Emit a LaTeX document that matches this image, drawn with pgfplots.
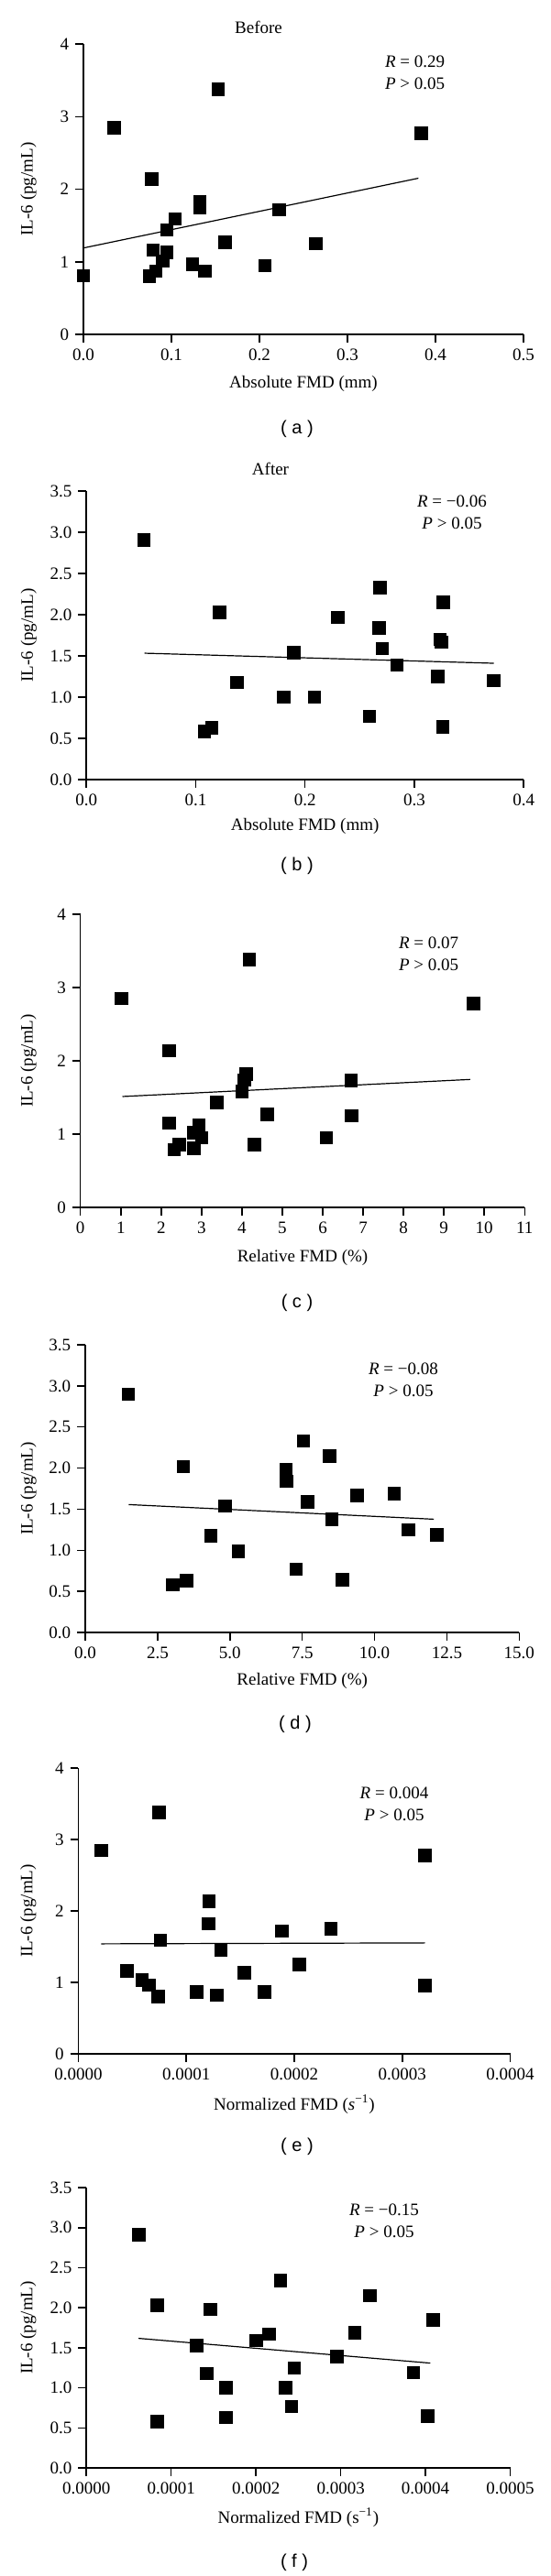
\documentclass[border=0pt]{standalone}
\usepackage{fontspec}
\setmainfont{Liberation Serif}
\newfontfamily\sansf{Liberation Sans}
\usepackage{pgfplots}
\pgfplotsset{compat=1.18}
\newcommand{\fs}{\fontsize{9.5}{12}\selectfont}
\pgfplotsset{
  fmd/.style={
    scale only axis, anchor=south west,
    axis lines=left,
    axis line style={-, line width=0.75pt},
    every tick/.style={black, line width=0.75pt},
    tick align=outside,
    major tick length=4.4pt,
    xmin=0, ymin=0,
    clip=false,
    scaled ticks=false,
    /pgf/number format/assume math mode=true,
    tick label style={font=\fs},
    label style={font=\fs},
    ylabel={IL-6 (pg/mL)},
  },
  dec1x/.style={xticklabel style={/pgf/number format/.cd, fixed, fixed zerofill, precision=1, assume math mode=true}},
  dec1y/.style={yticklabel style={/pgf/number format/.cd, fixed, fixed zerofill, precision=1, assume math mode=true}},
  pts/.style={only marks, mark=square*, mark size=3.4pt, black},
  fitl/.style={no marks, black, line width=0.6pt},
}
\begin{document}
\begin{tikzpicture}
\useasboundingbox (0,0) rectangle (300pt,-1406pt);

% (a)
\begin{axis}[fmd, at={(45.5pt,-182.5pt)}, width=240pt, height=158.5pt,
  xmax=0.5, ymax=4, xtick={0,0.1,0.2,0.3,0.4,0.5}, ytick={0,1,2,3,4}, dec1x,
  xlabel={Absolute FMD (mm)},
  xlabel style={at={(axis description cs:0.5,-0.17)}, anchor=center},
  ylabel style={at={(axis description cs:-0.125,0.5)}, anchor=center}]
\addplot[fitl] coordinates {(0.0012,1.193)(0.3806,2.151)};
\addplot[pts] coordinates {(0,0.81)(0.035,2.85)(0.153,3.38)(0.384,2.77)(0.0774,2.14)(0.132,1.83)(0.132,1.745)(0.222,1.72)(0.104,1.59)(0.0945,1.44)(0.161,1.27)(0.264,1.25)(0.079,1.16)(0.0945,1.13)(0.090,1.01)(0.124,0.97)(0.206,0.95)(0.138,0.87)(0.082,0.87)(0.075,0.80)};
\end{axis}

% (b)
\begin{axis}[fmd, at={(47.1pt,-425.5pt)}, width=238.5pt, height=157.5pt,
  xmax=0.4, ymax=3.5, xtick={0,0.1,0.2,0.3,0.4}, ytick={0,0.5,1,1.5,2,2.5,3,3.5}, dec1x, dec1y,
  xlabel={Absolute FMD (mm)},
  xlabel style={at={(axis description cs:0.5,-0.162)}, anchor=center},
  ylabel style={at={(axis description cs:-0.132,0.5)}, anchor=center}]
\addplot[fitl] coordinates {(0.0532,1.533)(0.3726,1.411)};
\addplot[pts] coordinates {(0.0526,2.91)(0.2687,2.33)(0.3265,2.15)(0.1216,2.03)(0.2297,1.97)(0.2677,1.84)(0.3235,1.70)(0.3248,1.67)(0.2706,1.59)(0.1897,1.54)(0.2839,1.39)(0.3213,1.25)(0.1377,1.18)(0.3726,1.20)(0.1806,1.00)(0.2084,1.00)(0.259,0.77)(0.3258,0.64)(0.1145,0.63)(0.108,0.585)};
\end{axis}

% (c)
\begin{axis}[fmd, at={(43.85pt,-659pt)}, width=242.3pt, height=160pt,
  xmax=11, ymax=4, xtick={0,1,2,3,4,5,6,7,8,9,10,11}, ytick={0,1,2,3,4},
  xlabel={Relative FMD (\%)},
  xlabel style={at={(axis description cs:0.5,-0.172)}, anchor=center},
  ylabel style={at={(axis description cs:-0.117,0.5)}, anchor=center}]
\addplot[fitl] coordinates {(1.04,1.513)(9.65,1.746)};
\addplot[pts] coordinates {(1.02,2.85)(4.18,3.38)(9.73,2.78)(2.20,2.14)(4.1,1.82)(4.05,1.74)(4.0,1.58)(6.70,1.73)(3.38,1.43)(4.62,1.27)(6.71,1.25)(2.19,1.15)(2.93,1.12)(2.81,1.02)(3.0,0.95)(6.09,0.95)(4.30,0.86)(2.44,0.86)(2.32,0.79)(2.81,0.81)};
\end{axis}

% (d)
\begin{axis}[fmd, at={(46.55pt,-891pt)}, width=236.6pt, height=157pt,
  xmax=15, ymax=3.5, xtick={0,2.5,5,7.5,10,12.5,15}, ytick={0,0.5,1,1.5,2,2.5,3,3.5}, dec1x, dec1y,
  xlabel={Relative FMD (\%)},
  xlabel style={at={(axis description cs:0.5,-0.169)}, anchor=center},
  ylabel style={at={(axis description cs:-0.131,0.5)}, anchor=center}]
\addplot[fitl] coordinates {(1.5,1.556)(12.05,1.378)};
\addplot[pts] coordinates {(1.48,2.90)(7.54,2.33)(8.45,2.15)(3.38,2.02)(6.93,1.98)(6.96,1.84)(9.39,1.67)(10.68,1.69)(7.68,1.59)(4.82,1.54)(8.52,1.38)(11.17,1.25)(12.15,1.19)(4.34,1.18)(5.29,0.99)(7.28,0.77)(8.88,0.64)(3.50,0.63)(3.02,0.58)};
\end{axis}

% (e)
\begin{axis}[fmd, at={(42.7pt,-1121pt)}, width=235.6pt, height=156pt,
  xmax=0.0004, ymax=4, xtick={0,0.0001,0.0002,0.0003,0.0004},
  xticklabels={0.0000,0.0001,0.0002,0.0003,0.0004}, ytick={0,1,2,3,4},
  xlabel={Normalized FMD (\textit{s}\textsuperscript{−1})},
  xlabel style={at={(axis description cs:0.5,-0.176)}, anchor=center},
  ylabel style={at={(axis description cs:-0.116,0.5)}, anchor=center}]
\addplot[fitl] coordinates {(0.0000212,1.540)(0.000321,1.553)};
\addplot[pts] coordinates {(0.0000212,2.85)(0.0000748,3.38)(0.0003207,2.78)(0.0001208,2.14)(0.0001205,1.82)(0.0001887,1.72)(0.0002338,1.75)(0.0000761,1.59)(0.0001321,1.45)(0.0002044,1.25)(0.0000449,1.16)(0.0001538,1.14)(0.0000591,1.03)(0.0000653,0.965)(0.0003207,0.96)(0.0001094,0.87)(0.0001724,0.87)(0.0001284,0.82)(0.0000741,0.80)};
\end{axis}

% (f)
\begin{axis}[fmd, at={(47.1pt,-1347pt)}, width=231.2pt, height=153pt,
  xmax=0.0005, ymax=3.5, xtick={0,0.0001,0.0002,0.0003,0.0004,0.0005},
  xticklabels={0.0000,0.0001,0.0002,0.0003,0.0004,0.0005},
  ytick={0,0.5,1,1.5,2,2.5,3,3.5}, dec1y,
  xlabel={Normalized FMD (s\textsuperscript{−1})},
  xlabel style={at={(axis description cs:0.5,-0.176)}, anchor=center},
  ylabel style={at={(axis description cs:-0.137,0.5)}, anchor=center}]
\addplot[fitl] coordinates {(0.0000616,1.618)(0.0004056,1.309)};
\addplot[pts] coordinates {(0.0000616,2.91)(0.0002288,2.34)(0.0003344,2.15)(0.0000832,2.03)(0.000146,1.98)(0.0004089,1.85)(0.0003166,1.69)(0.0002155,1.67)(0.0002005,1.59)(0.0001302,1.53)(0.0002953,1.39)(0.000245,1.25)(0.0003856,1.19)(0.0001418,1.18)(0.0001643,1.00)(0.0002346,1.00)(0.0002421,0.77)(0.0004027,0.645)(0.0001643,0.63)(0.0000832,0.58)};
\end{axis}

% titles and annotations
\node[font=\fs] at (141pt,-15pt) {Before};
\node[font=\fs] at (147.5pt,-256pt) {After};
\node[font=\fs, align=left, anchor=west] at (206.5pt,-39.5pt) {\textit{R} = 0.29\\\textit{P} > 0.05};
\node[font=\fs, align=center] at (246.5pt,-279.75pt) {\textit{R} = −0.06\\\textit{P} > 0.05};
\node[font=\fs, align=left, anchor=west] at (214pt,-520.75pt) {\textit{R} = 0.07\\\textit{P} > 0.05};
\node[font=\fs, align=center] at (220pt,-753pt) {\textit{R} = −0.08\\\textit{P} > 0.05};
\node[font=\fs, align=center] at (215pt,-984.75pt) {\textit{R} = 0.004\\\textit{P} > 0.05};
\node[font=\fs, align=center] at (209.5pt,-1212pt) {\textit{R} = −0.15\\\textit{P} > 0.05};

\node[font=\sansf\fontsize{10}{12}\selectfont] at (162pt,-234pt) {( a )};
\node[font=\sansf\fontsize{10}{12}\selectfont] at (162pt,-472.5pt) {( b )};
\node[font=\sansf\fontsize{10}{12}\selectfont] at (162pt,-711pt) {( c )};
\node[font=\sansf\fontsize{10}{12}\selectfont] at (161pt,-941pt) {( d )};
\node[font=\sansf\fontsize{10}{12}\selectfont] at (162pt,-1171.5pt) {( e )};
\node[font=\sansf\fontsize{10}{12}\selectfont] at (160.5pt,-1398.5pt) {( f )};
\end{tikzpicture}
\end{document}
